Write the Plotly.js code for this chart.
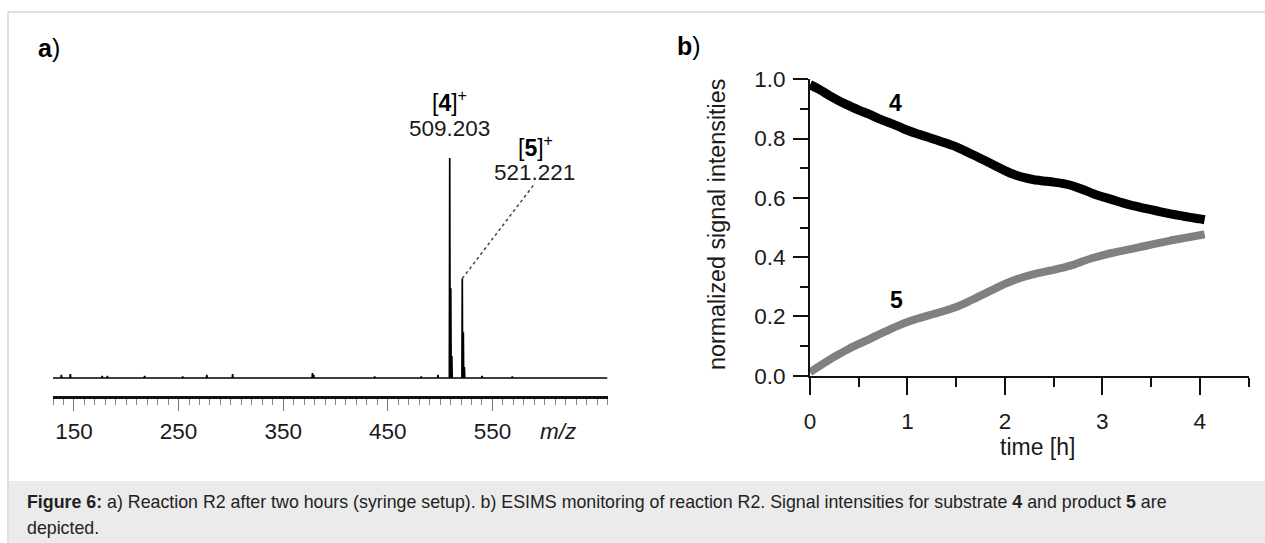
<!DOCTYPE html>
<html><head><meta charset="utf-8">
<script src="https://cdn.plot.ly/plotly-3.0.1.min.js"></script>
<style>html,body{margin:0;padding:0;background:#fff;overflow:hidden}#chart{width:1265px;height:543px}</style>
</head><body><div id="chart"></div>
<script>
// ---------- panel a: mass spectrum (stick peaks, relative intensity) ----------
const peakMz  = [138, 146.6, 177, 182, 217.6, 254, 277, 301.7, 378, 379.2, 437.5, 482, 498, 509.2, 510.2, 511.2, 521.2, 522.2, 523.2, 540, 569];
const peakInt = [0.014, 0.018, 0.009, 0.009, 0.009, 0.007, 0.014, 0.018, 0.023, 0.014, 0.007, 0.007, 0.014, 1.0, 0.408, 0.10, 0.452, 0.208, 0.05, 0.009, 0.007];
const mzRange = [130, 660];
const mzLabelTicks = [150, 250, 350, 450, 550];
const mzLabelText = ['150', '250', '350', '450', '550'];
const mzLongTicks = [200, 300, 400, 500, 600, 650];
const mzLabelPeaks = ['509.203', '521.221'];
const mzIonLabels = ['[<b>4</b>]<sup>+</sup>', '[<b>5</b>]<sup>+</sup>'];

// ---------- panel b: ESIMS monitoring ----------
const timeH = [0,0.1,0.2,0.3,0.4,0.5,0.6,0.7,0.8,0.9,1.0,1.1,1.2,1.3,1.4,1.5,1.6,1.7,1.8,1.9,2.0,2.1,2.2,2.3,2.4,2.5,2.6,2.7,2.8,2.9,3.0,3.1,3.2,3.3,3.4,3.5,3.6,3.7,3.8,3.9,4.0,4.05];
const signal4 = [0.982,0.965,0.945,0.927,0.911,0.896,0.883,0.868,0.855,0.842,0.828,0.816,0.806,0.795,0.784,0.772,0.757,0.741,0.725,0.708,0.692,0.678,0.668,0.661,0.657,0.653,0.648,0.640,0.628,0.615,0.604,0.594,0.584,0.575,0.567,0.560,0.553,0.546,0.540,0.534,0.529,0.526];
const signal5 = [0.012,0.033,0.054,0.073,0.091,0.107,0.122,0.138,0.153,0.168,0.181,0.192,0.202,0.211,0.221,0.232,0.246,0.262,0.278,0.294,0.310,0.323,0.334,0.343,0.350,0.357,0.365,0.374,0.386,0.397,0.406,0.414,0.421,0.428,0.435,0.442,0.449,0.456,0.462,0.468,0.474,0.477];
const seriesNames = ['4', '5'];

// ---------- helpers ----------
const W = 1265, H = 543;
const px = v => v / W;
const py = v => 1 - v / H;
const FONT = 'Liberation Sans, Arial, Helvetica, sans-serif';
const TXT = '#1a1a1a';

// build stick profile from peak list
const specX = [mzRange[0]], specY = [0];
const hw = 0.35;
peakMz.forEach((m, i) => {
  specX.push(m - hw, m, m + hw);
  specY.push(0, peakInt[i], 0);
});
specX.push(mzRange[1]); specY.push(0);

const minorA = [];
for (let v = mzRange[0]; v <= mzRange[1] + 1e-9; v += 10) minorA.push(v);

const traces = [
  {x: specX, y: specY, xaxis: 'x', yaxis: 'y', mode: 'lines', line: {color: '#000', width: 1.7}, hoverinfo: 'skip', cliponaxis: false},
  {x: timeH, y: signal4, name: seriesNames[0], xaxis: 'x2', yaxis: 'y2', mode: 'lines', line: {color: '#000', width: 9, shape: 'spline', smoothing: 0.6}},
  {x: timeH, y: signal5, name: seriesNames[1], xaxis: 'x2', yaxis: 'y2', mode: 'lines', line: {color: '#808080', width: 8, shape: 'spline', smoothing: 0.6}}
];

const i521 = peakMz.indexOf(521.2);
const i509 = peakMz.indexOf(509.2);

const layout = {
  width: W, height: H,
  margin: {l: 0, r: 0, t: 0, b: 0},
  paper_bgcolor: '#fff', plot_bgcolor: 'rgba(0,0,0,0)',
  showlegend: false,
  font: {family: FONT, size: 22, color: TXT},
  xaxis: {
    domain: [px(53), px(607.5)], range: mzRange, anchor: 'y',
    showline: true, linewidth: 2.5, linecolor: '#111',
    ticks: 'outside', ticklen: 12, tickwidth: 1, tickcolor: '#777',
    tickmode: 'array', tickvals: mzLabelTicks, ticktext: mzLabelText,
    ticklabelstandoff: 1,
    minor: {tickmode: 'array', tickvals: minorA, ticks: 'outside', ticklen: 6, tickwidth: 1, tickcolor: '#888'},
    showgrid: false, zeroline: false, fixedrange: true,
    tickfont: {family: FONT, size: 22.5, color: TXT}
  },
  xaxis3: {
    domain: [px(53), px(607.5)], range: mzRange, anchor: 'y', overlaying: 'x',
    showline: false, ticks: 'outside', ticklen: 12, tickwidth: 1, tickcolor: '#777',
    tickmode: 'array', tickvals: mzLongTicks, showticklabels: false,
    showgrid: false, zeroline: false, fixedrange: true
  },
  yaxis: {domain: [py(396), py(150)], range: [-18 / 220, 228 / 220], visible: false, anchor: 'x', fixedrange: true},
  xaxis2: {
    domain: [px(810), px(1248.5)], range: [0, 4.5], anchor: 'y2',
    showline: true, linewidth: 2, linecolor: '#111',
    ticks: 'outside', ticklen: 17, tickwidth: 2, tickcolor: '#111',
    dtick: 1, tick0: 0, ticklabelstandoff: 7,
    minor: {dtick: 0.5, tick0: 0, ticks: 'outside', ticklen: 9, tickwidth: 2, tickcolor: '#111'},
    showgrid: false, zeroline: false, fixedrange: true,
    tickfont: {family: FONT, size: 22.5, color: TXT}
  },
  yaxis2: {
    domain: [py(375.7), py(79.3)], range: [0, 1], anchor: 'x2',
    showline: true, linewidth: 2, linecolor: '#111',
    ticks: 'outside', ticklen: 15, tickwidth: 2, tickcolor: '#111',
    dtick: 0.2, tick0: 0, tickformat: '.1f', ticklabelstandoff: 3,
    minor: {dtick: 0.1, tick0: 0, ticks: 'outside', ticklen: 8, tickwidth: 2, tickcolor: '#111'},
    showgrid: false, zeroline: false, fixedrange: true,
    tickfont: {family: FONT, size: 22.5, color: TXT}
  },
  shapes: [
    {type: 'rect', xref: 'paper', yref: 'paper', x0: px(8), x1: px(1270), y0: py(548), y1: py(12), line: {color: '#d6d6d6', width: 1.5}, fillcolor: 'rgba(0,0,0,0)', layer: 'below'},
    {type: 'rect', xref: 'paper', yref: 'paper', x0: px(9), x1: px(1270), y0: py(548), y1: py(481), line: {width: 0}, fillcolor: '#ebebeb', layer: 'below'},
    {type: 'line', xref: 'x', yref: 'y', x0: peakMz[i521], y0: peakInt[i521], x1: 590.8, y1: 0.886, line: {color: '#444', width: 1.5, dash: 'dot'}}
  ],
  annotations: [
    {xref: 'paper', yref: 'paper', x: px(36), y: py(48), xanchor: 'left', yanchor: 'middle', showarrow: false, text: '<b>a</b>)', font: {family: FONT, size: 25, color: '#000'}},
    {xref: 'paper', yref: 'paper', x: px(675), y: py(46), xanchor: 'left', yanchor: 'middle', showarrow: false, text: '<b>b</b>)', font: {family: FONT, size: 25, color: '#000'}},
    // panel a labels
    {xref: 'x', yref: 'paper', x: peakMz[i509], y: py(101), xanchor: 'center', yanchor: 'middle', showarrow: false, text: mzIonLabels[0], font: {family: FONT, size: 23, color: '#000'}},
    {xref: 'x', yref: 'paper', x: peakMz[i509], y: py(129), xanchor: 'center', yanchor: 'middle', showarrow: false, text: mzLabelPeaks[0], font: {family: FONT, size: 22.5, color: TXT}},
    {xref: 'paper', yref: 'paper', x: px(535), y: py(146), xanchor: 'center', yanchor: 'middle', showarrow: false, text: mzIonLabels[1], font: {family: FONT, size: 23, color: '#000'}},
    {xref: 'paper', yref: 'paper', x: px(534), y: py(173), xanchor: 'center', yanchor: 'middle', showarrow: false, text: mzLabelPeaks[1], font: {family: FONT, size: 22.5, color: TXT}},
    {xref: 'paper', yref: 'paper', x: px(558), y: py(431), xanchor: 'center', yanchor: 'middle', showarrow: false, text: '<i>m/z</i>', font: {family: FONT, size: 22.5, color: TXT}},
    // panel b labels
    {xref: 'paper', yref: 'paper', x: px(1037), y: py(447), xanchor: 'center', yanchor: 'middle', showarrow: false, text: 'time [h]', font: {family: FONT, size: 23, color: TXT}},
    {xref: 'paper', yref: 'paper', x: px(717), y: py(224), xanchor: 'center', yanchor: 'middle', showarrow: false, textangle: -90, text: 'normalized signal intensities', font: {family: FONT, size: 23.3, color: TXT}},
    {xref: 'paper', yref: 'paper', x: px(895), y: py(103), xanchor: 'center', yanchor: 'middle', showarrow: false, text: '<b>' + seriesNames[0] + '</b>', font: {family: FONT, size: 23, color: '#000'}},
    {xref: 'paper', yref: 'paper', x: px(896), y: py(300), xanchor: 'center', yanchor: 'middle', showarrow: false, text: '<b>' + seriesNames[1] + '</b>', font: {family: FONT, size: 23, color: '#000'}},
    // caption
    {xref: 'paper', yref: 'paper', x: px(25), y: py(502), xanchor: 'left', yanchor: 'middle', showarrow: false, align: 'left',
     text: '<b>Figure 6:</b> a) Reaction R2 after two hours (syringe setup). b) ESIMS monitoring of reaction R2. Signal intensities for substrate <b>4</b> and product <b>5</b> are',
     font: {family: FONT, size: 17.8, color: '#222'}},
    {xref: 'paper', yref: 'paper', x: px(25), y: py(528), xanchor: 'left', yanchor: 'middle', showarrow: false, align: 'left',
     text: 'depicted.', font: {family: FONT, size: 17.8, color: '#222'}}
  ]
};

Plotly.newPlot('chart', traces, layout, {displayModeBar: false, staticPlot: true});
</script>
</body></html>
